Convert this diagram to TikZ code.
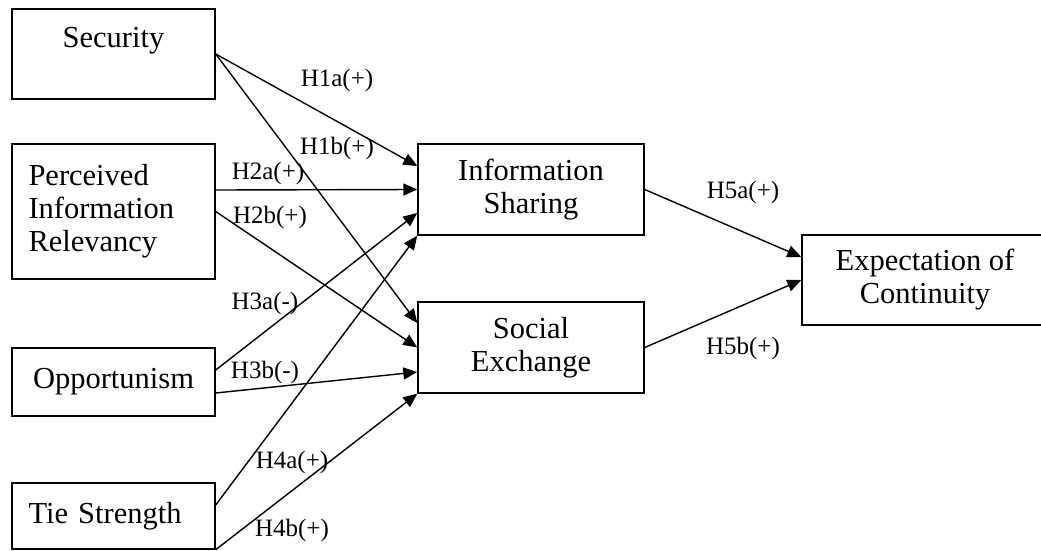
\documentclass[tikz,border=0pt]{standalone}
\usepackage{fontspec}
\setmainfont{Liberation Serif}
\usetikzlibrary{arrows.meta}

\begin{document}
\begin{tikzpicture}[x=1pt,y=-1pt,line width=1.4pt,
  box/.style={draw,rectangle,inner sep=0pt,minimum width=203pt,font=\fontsize{30.5}{33}\selectfont},
  hyp/.style={inner sep=1pt,font=\fontsize{25}{27}\selectfont},
  link/.style={-{Triangle[length=14pt,width=12pt]}}]
\path[use as bounding box] (0,0) rectangle (1041,551);
% left column
\node[box,minimum height=90pt,align=center] (sec) at (113.5,54) {Security\\~};
\node[box,minimum height=135pt,align=left,text width=170pt] (pir) at (113.5,211.5) {Perceived\\Information\\Relevancy};
\node[box,minimum height=68pt] (opp) at (113.5,382) {Opportunism};
\node[box,minimum height=66pt,align=left,text width=170pt] (tie) at (113.5,516) {Tie Strength};
% middle and right
\node[box,minimum width=226pt,minimum height=91pt,align=center] (is) at (531,189.5) {Information\\Sharing};
\node[box,minimum width=226pt,minimum height=91pt,align=center] (se) at (531,347.5) {Social\\Exchange};
\node[box,minimum width=246pt,minimum height=90pt,align=center] (ec) at (925,280) {Expectation of\\Continuity};
% paths
\draw[link] (sec.east) -- ([yshift=23.5pt]is.west);
\draw[link] (sec.east) -- ([yshift=24.5pt]se.west);
\draw[link] ([yshift=21.5pt]pir.east) -- (is.west);
\draw[link] (pir.east) -- (se.west);
\draw[link] ([yshift=12pt]opp.east) -- ([yshift=-23.5pt]is.west);
\draw[link] ([yshift=-11pt]opp.east) -- ([yshift=-24.5pt]se.west);
\draw[link] ([yshift=11pt]tie.east) -- (is.south west);
\draw[link] (tie.south east) -- (se.south west);
\draw[link] (is.east) -- ([yshift=23pt]ec.west);
\draw[link] (se.east) -- (ec.west);
% hypotheses
\node[hyp] (h1a) at (337,80) {H1a(+)};
\node[hyp] (h1b) at (337,148) {H1b(+)};
\node[hyp] (h2a) at (268,173) {H2a(+)};
\node[hyp] (h2b) at (270,217) {H2b(+)};
\node[hyp] (h3a) at (265,303) {H3a(-)};
\node[hyp] (h3b) at (265,372) {H3b(-)};
\node[hyp] (h4a) at (292,462) {H4a(+)};
\node[hyp] (h4b) at (292,530) {H4b(+)};
\node[hyp] (h5a) at (743,192) {H5a(+)};
\node[hyp] (h5b) at (743,348) {H5b(+)};
\end{tikzpicture}
\end{document}
